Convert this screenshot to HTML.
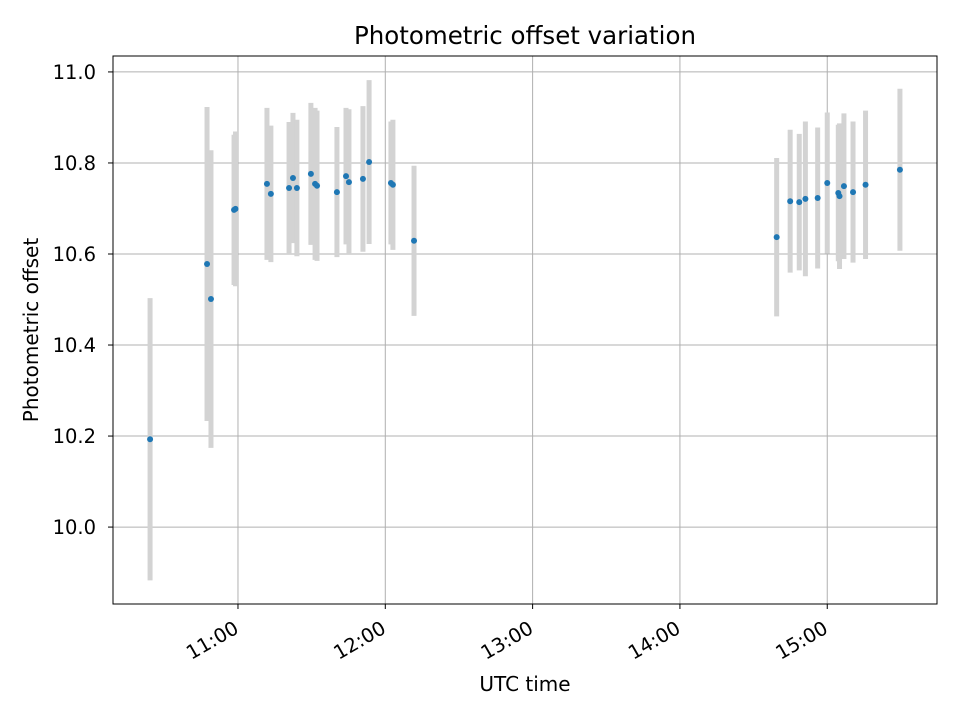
<!DOCTYPE html>
<html><head><meta charset="utf-8"><style>
body{margin:0;background:#fff;font-family:"DejaVu Sans","Liberation Sans",sans-serif;}
svg text{font-family:"DejaVu Sans","Liberation Sans",sans-serif;}
</style></head><body>
<svg id="chart" width="960" height="720" xmlns="http://www.w3.org/2000/svg">
<rect width="960" height="720" fill="#fff"/>
<g id="grid"></g>
<g id="bars"></g>
<g id="pts"></g>
<rect x="113" y="56" width="824" height="548" fill="none" stroke="#000" stroke-width="1"/>
<g id="ticks"></g>
<text x="525" y="44" text-anchor="middle" style="font-size:24.5px">Photometric offset variation</text>
<text x="525" y="691" text-anchor="middle" style="font-size:20px">UTC time</text>
<text transform="translate(38,330) rotate(-90)" text-anchor="middle" style="font-size:20px">Photometric offset</text>
</svg>
<script>
// minutes after 10:00 UTC
const times=[24.2,47.4,49,58.4,59,71.8,73.4,80.8,82.4,84,89.7,91.4,92.2,100.3,104,105.2,110.9,113.4,122.3,123.1,131.7,279.4,284.9,288.6,291.1,296.1,300,304.5,305,306.8,310.5,315.6,329.6];
const values=[10.193,10.578,10.501,10.697,10.699,10.754,10.732,10.745,10.767,10.745,10.776,10.754,10.75,10.736,10.771,10.758,10.765,10.802,10.756,10.752,10.629,10.637,10.716,10.714,10.721,10.723,10.756,10.734,10.727,10.749,10.736,10.752,10.785];
const errors=[0.31,0.345,0.327,0.165,0.17,0.167,0.15,0.145,0.143,0.15,0.156,0.167,0.165,0.143,0.15,0.16,0.16,0.18,0.135,0.143,0.165,0.174,0.157,0.15,0.17,0.155,0.155,0.15,0.16,0.16,0.155,0.163,0.178];
const xTickMinutes=[60,120,180,240,300];
const xTickLabels=["11:00","12:00","13:00","14:00","15:00"];
const yTicks=[10.0,10.2,10.4,10.6,10.8,11.0];
const yTickLabels=["10.0","10.2","10.4","10.6","10.8","11.0"];
const NS="http://www.w3.org/2000/svg";
const L=113,R=937,T=56,B=604,tMin=9.1,tMax=344.7,vMin=9.831,vMax=11.035;
const xs=t=>L+(t-tMin)/(tMax-tMin)*(R-L);
const ys=v=>B-(v-vMin)/(vMax-vMin)*(B-T);
function mk(tag,a,parent){const e=document.createElementNS(NS,tag);for(const k in a)e.setAttribute(k,a[k]);document.getElementById(parent).appendChild(e);return e;}
xTickMinutes.forEach((m,i)=>{const x=xs(m);
 let g=mk('line',{x1:x,x2:x,y1:T,y2:B,stroke:'#b0b0b0','stroke-width':1},'grid');
 
 let t=mk('line',{x1:x,x2:x,y1:B,y2:B+5,stroke:'#000'},'ticks');
 
 const ax=x+2,ay=B+28;
 let tx=mk('text',{x:ax,y:ay,'text-anchor':'end',style:'font-size:19.5px',transform:`rotate(-30 ${ax} ${ay})`},'ticks');
 tx.textContent=xTickLabels[i];
});
yTicks.forEach((v,i)=>{const y=ys(v);
 let g=mk('line',{x1:L,x2:R,y1:y,y2:y,stroke:'#b0b0b0','stroke-width':1},'grid');
 
 let t=mk('line',{x1:L-5,x2:L,y1:y,y2:y,stroke:'#000'},'ticks');
 
 let tx=mk('text',{x:L-17,y:y+7,'text-anchor':'end',style:'font-size:19.5px'},'ticks');
 tx.textContent=yTickLabels[i];
});
times.forEach((t,i)=>{const x=xs(t);
 let b=mk('line',{x1:x,x2:x,y1:ys(values[i]+errors[i]),y2:ys(values[i]-errors[i]),stroke:'#d3d3d3','stroke-width':5},'bars');
 
});
times.forEach((t,i)=>{
 let c=mk('circle',{cx:xs(t),cy:ys(values[i]),r:3,fill:'#1f77b4'},'pts');
 
});
</script>
</body></html>
